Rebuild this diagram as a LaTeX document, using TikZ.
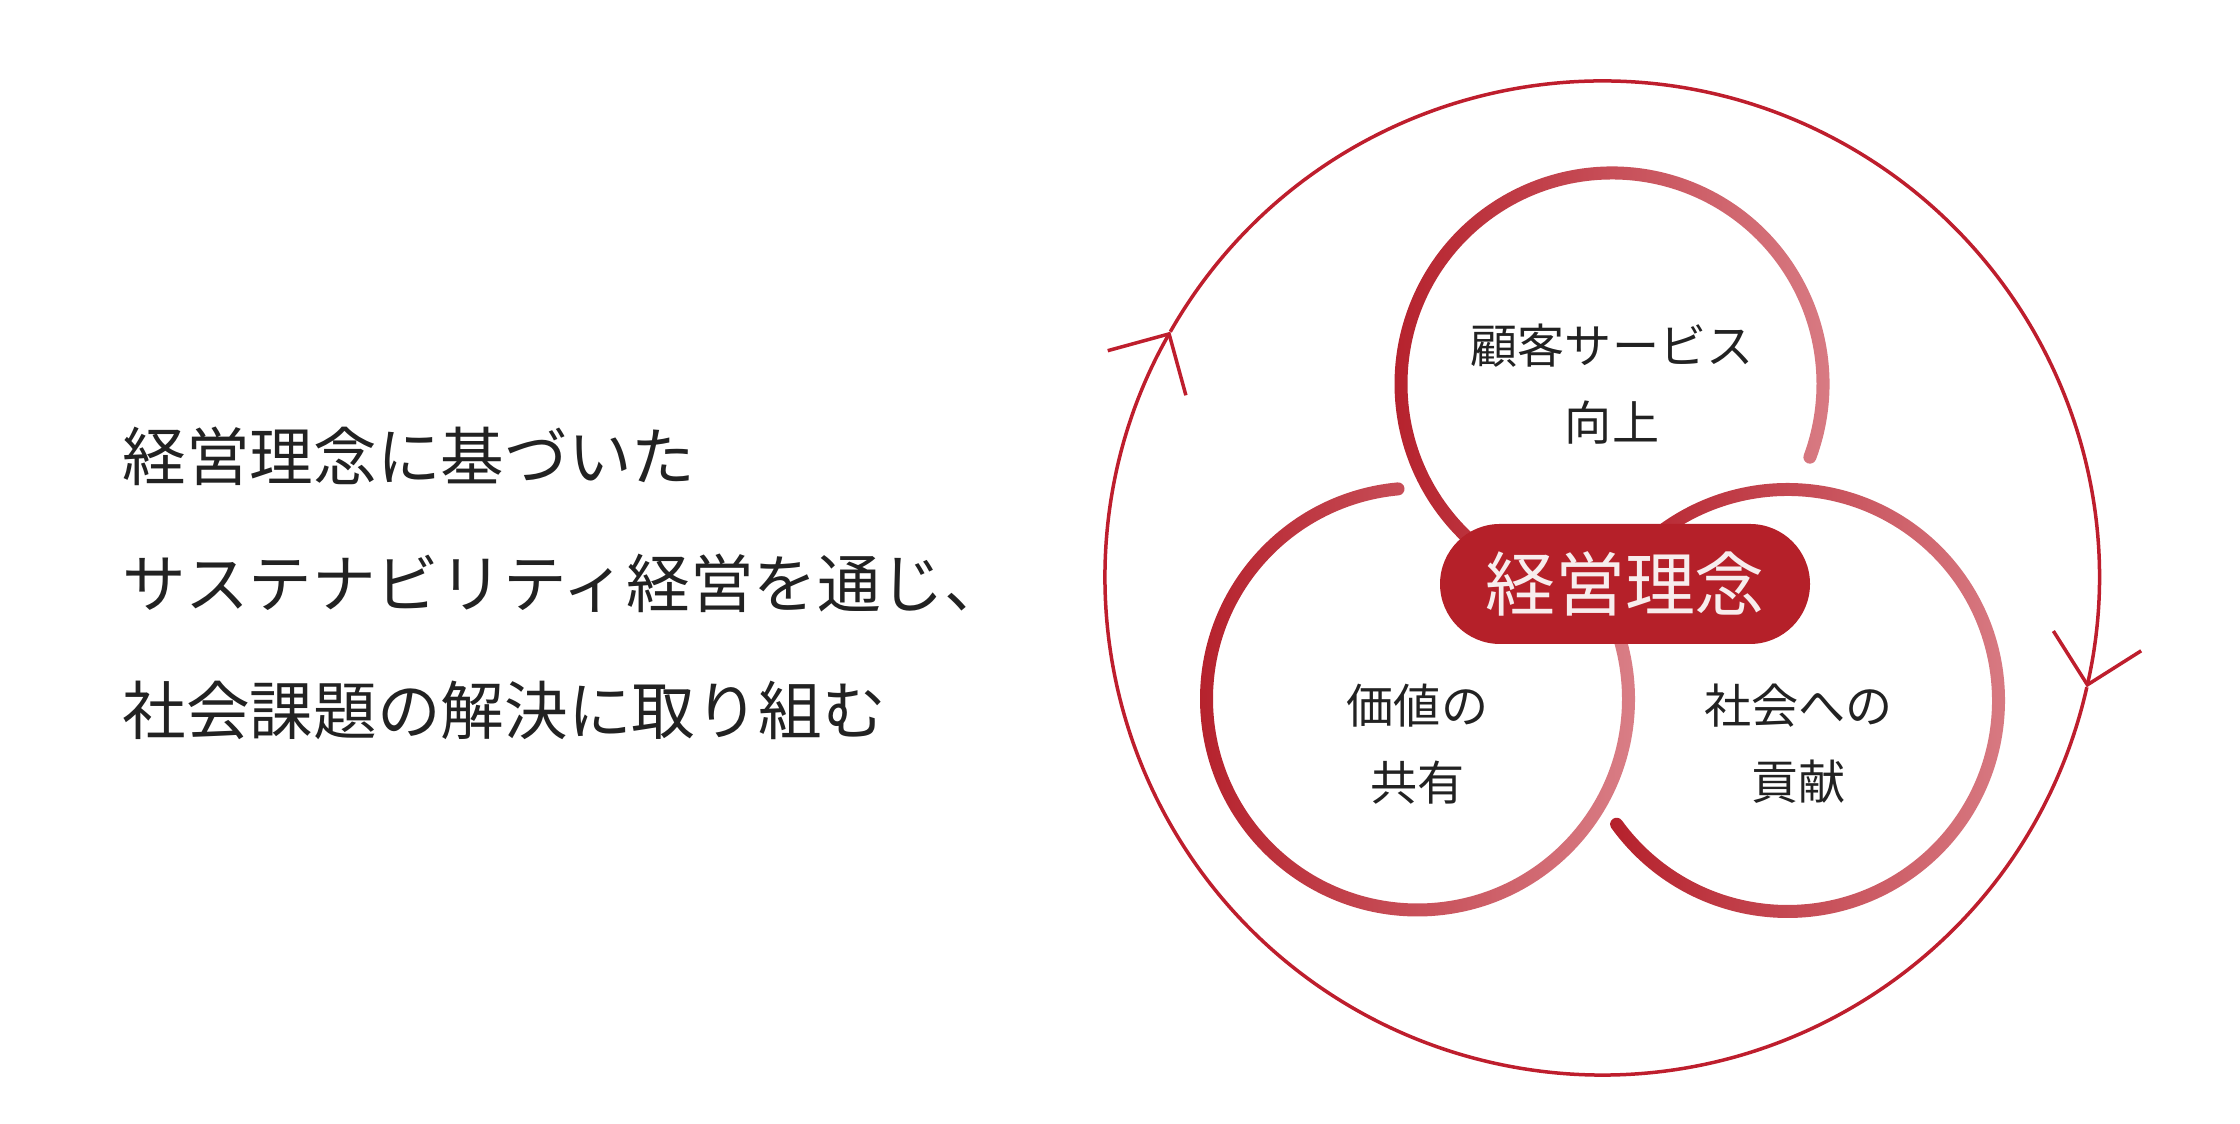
\documentclass[tikz,border=0pt]{standalone}
\usepackage{fontspec}
\newfontfamily\jpfont{Noto Sans CJK JP}
\usetikzlibrary{arrows.meta}
\definecolor{ringdark}{HTML}{B5202B}
\definecolor{ringlight}{HTML}{DA8088}
\definecolor{loopred}{HTML}{BE1E2D}
\definecolor{pillred}{HTML}{B52029}
\definecolor{pilltext}{HTML}{F7EDED}
\definecolor{ink}{HTML}{222222}
\newcommand{\ringarc}[3]{%
  \shade[ringshade] ([shift=(#2:2.175)] #1) arc[start angle=#2, end angle=#3, radius=2.175]
    arc[start angle=#3, end angle=#3+180, radius=0.065]
    arc[start angle=#3, end angle=#2, radius=2.045]
    arc[start angle=#2+180, end angle=#2+360, radius=0.065] -- cycle;}
\begin{document}
\begin{tikzpicture}[
    ringshade/.style={left color=ringdark, right color=ringlight},
    ringlabel/.style={font=\jpfont\fontsize{13.4pt}{21.8pt}\selectfont, text=ink, align=center, inner sep=0pt},
    motto/.style={font=\jpfont\fontsize{18.1pt}{22pt}\selectfont, text=ink, anchor=west, inner sep=0pt},
    pill/.style={fill=pillred, rounded corners=0.6cm, minimum width=3.7cm, minimum height=1.2cm, inner sep=0pt,
                 text=pilltext, font=\jpfont\fontsize{19.9pt}{24pt}\selectfont},
    cycleline/.style={draw=loopred, line width=0.035cm, -{Straight Barb[length=0.45cm,width=0.9cm]}}]
    \useasboundingbox (0,0) rectangle (22.4,11.24);

    \coordinate (hub) at (16.02,5.46);
    \coordinate (cservice) at (16.12,7.40);
    \coordinate (cvalue) at (14.175,4.25);
    \coordinate (csociety) at (17.875,4.235);

    \draw[cycleline] ([shift=(150.3:4.97)] hub) arc[start angle=150.3, end angle=-12.7, radius=4.97];
    \draw[cycleline] ([shift=(-12.7:4.97)] hub) arc[start angle=-12.7, end angle=-209.7, radius=4.97];

    \ringarc{cservice}{-20.3}{270}
    \ringarc{cvalue}{95.3}{405}
    \ringarc{csociety}{215.9}{505}

    \node[pill] (core) at (16.25,5.40) {経営理念};

    \node[ringlabel] (service) at (cservice) {顧客サービス\\向上};
    \node[ringlabel] (value) at ([yshift=-0.45cm] cvalue) {価値の\\共有};
    \node[ringlabel] (society) at ([shift={(0.11,-0.43)}] csociety) {社会への\\貢献};

    \node[motto] (line1) at (1.22,6.68) {経営理念に基づいた};
    \node[motto] (line2) at ([yshift=-1.27cm] line1.west) {サステナビリティ経営を通じ、};
    \node[motto] (line3) at ([yshift=-1.27cm] line2.west) {社会課題の解決に取り組む};
\end{tikzpicture}
\end{document}
